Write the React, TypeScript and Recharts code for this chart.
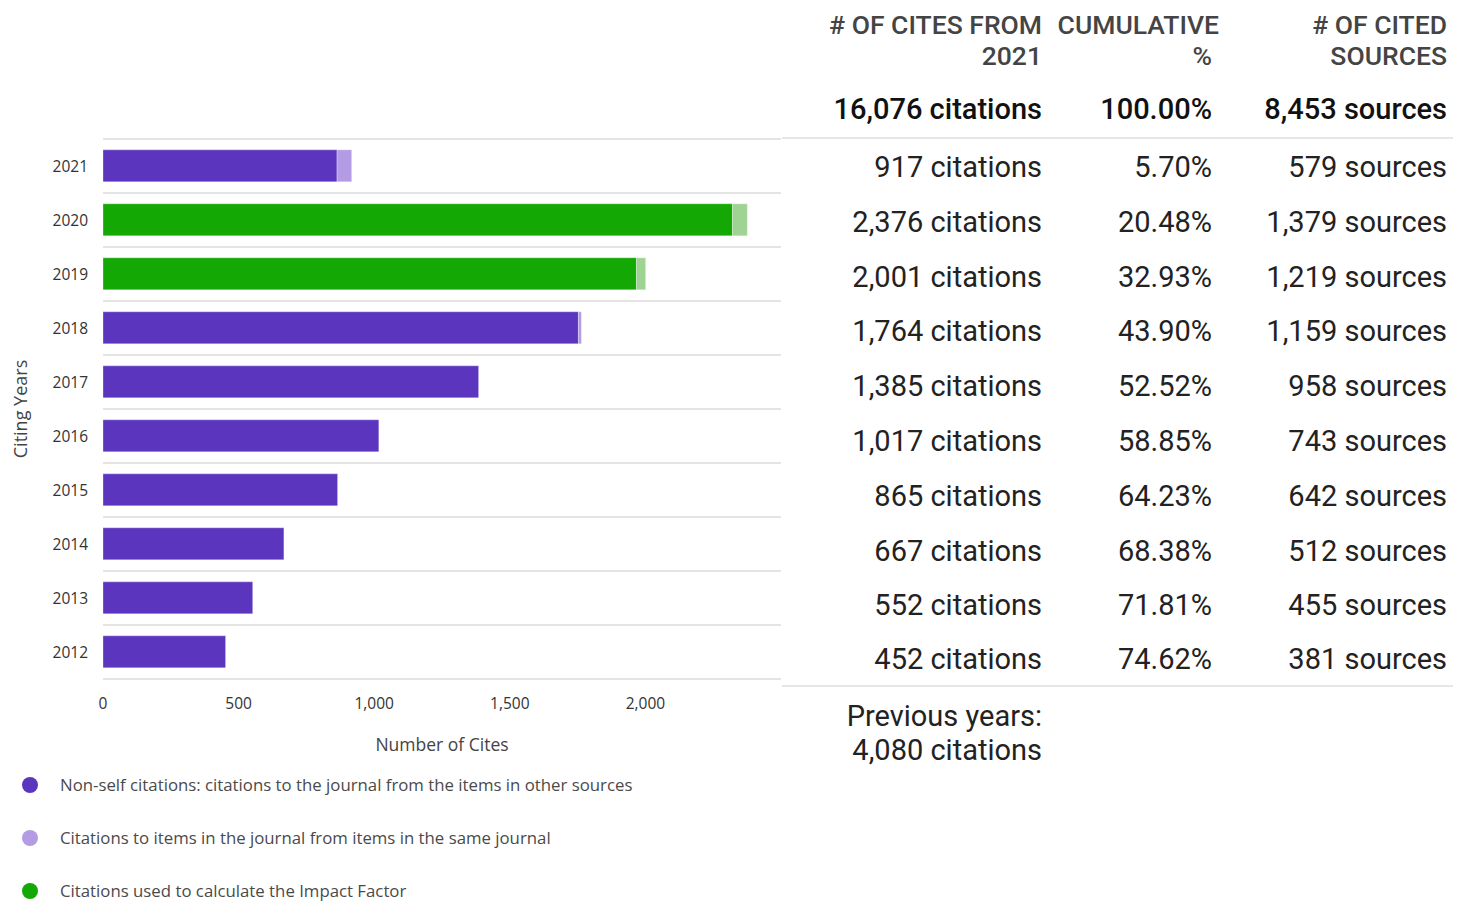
import React from 'react'
import { BarChart, Bar, XAxis, YAxis, CartesianGrid, Cell } from 'recharts'

const years = ['2021', '2020', '2019', '2018', '2017', '2016', '2015', '2014', '2013', '2012']
const nonSelfCites = [863, 2321, 1967, 1753, 1385, 1017, 865, 667, 552, 452]
const selfCites = [54, 55, 34, 11, 0, 0, 0, 0, 0, 0]
const impactFactorYears = ['2020', '2019']
const xTicks = [0, 500, 1000, 1500, 2000]

const citesFrom2021 = [917, 2376, 2001, 1764, 1385, 1017, 865, 667, 552, 452]
const cumulativePct = ['5.70%', '20.48%', '32.93%', '43.90%', '52.52%', '58.85%', '64.23%', '68.38%', '71.81%', '74.62%']
const citedSources = [579, 1379, 1219, 1159, 958, 743, 642, 512, 455, 381]
const totalCites = 16076
const totalPct = '100.00%'
const totalSources = 8453
const previousYearsCites = 4080

const legendItems = [
  { label: 'Non-self citations: citations to the journal from the items in other sources', color: '#5c35be' },
  { label: 'Citations to items in the journal from items in the same journal', color: '#b39ce3' },
  { label: 'Citations used to calculate the Impact Factor', color: '#14a805' },
]

const COLORS = {
  nonSelf: '#5c35be',
  self: '#b39ce3',
  ifNonSelf: '#14a805',
  ifSelf: '#9fd393',
}

const data = years.map((y, i) => ({ year: y, nonSelf: nonSelfCites[i], self: selfCites[i] }))

const fmt = (n: number) => n.toLocaleString('en-US')

const chartFont = '"Open Sans", sans-serif'
const tableFont = 'Roboto, sans-serif'

function CitesChart() {
  return (
    <BarChart
      width={790}
      height={762}
      data={data}
      layout="vertical"
      margin={{ top: 139, right: 9, bottom: 8, left: 0 }}
      barCategoryGap="20%"
      style={{ fontFamily: chartFont }}
    >
      <CartesianGrid
        vertical={false}
        stroke="#e4e4e4"
        strokeWidth={2}
        horizontalCoordinatesGenerator={({ offset }: any) =>
          Array.from({ length: years.length + 1 }, (_, i) => offset.top + (offset.height * i) / years.length)
        }
      />
      <XAxis
        type="number"
        domain={[0, 2500]}
        ticks={xTicks}
        tickFormatter={(v: number) => fmt(v)}
        axisLine={false}
        tickLine={false}
        tickMargin={13}
        height={75}
        tick={{ fill: '#333', fontSize: 15.5 }}
        label={{ value: 'Number of Cites', position: 'insideBottom', offset: 3, fill: '#444', fontSize: 17.5 }}
      />
      <YAxis
        type="category"
        dataKey="year"
        width={103}
        axisLine={false}
        tickLine={false}
        tickMargin={9}
        tick={{ fill: '#333', fontSize: 15.5 }}
        label={{
          value: 'Citing Years',
          angle: -90,
          position: 'insideLeft',
          offset: 21,
          fill: '#444',
          fontSize: 18,
          style: { textAnchor: 'middle' },
        }}
      />
      <Bar dataKey="nonSelf" stackId="a" isAnimationActive={false} stroke="#ffffff" strokeOpacity={0.3}>
        {data.map((d) => (
          <Cell key={d.year} fill={impactFactorYears.includes(d.year) ? COLORS.ifNonSelf : COLORS.nonSelf} />
        ))}
      </Bar>
      <Bar dataKey="self" stackId="a" isAnimationActive={false} stroke="#ffffff" strokeOpacity={0.3}>
        {data.map((d) => (
          <Cell key={d.year} fill={impactFactorYears.includes(d.year) ? COLORS.ifSelf : COLORS.self} />
        ))}
      </Bar>
    </BarChart>
  )
}

function Legend() {
  return (
    <div style={{ position: 'absolute', left: 0, top: 758, fontFamily: chartFont }}>
      {legendItems.map((item) => (
        <div key={item.label} style={{ height: 53, display: 'flex', alignItems: 'center' }}>
          <span
            style={{
              display: 'inline-block',
              width: 16,
              height: 16,
              borderRadius: 8,
              background: item.color,
              marginLeft: 22,
              marginRight: 22,
            }}
          />
          <span style={{ fontSize: 16.8, color: '#4a4a4a' }}>{item.label}</span>
        </div>
      ))}
    </div>
  )
}

const colWidths = [260, 170, 235]

function Row({ cells, height, weight, color, border }: any) {
  return (
    <div
      style={{
        display: 'flex',
        height,
        lineHeight: `${height}px`,
        fontWeight: weight,
        color,
        borderBottom: border ? '2px solid #e6e6e6' : undefined,
      }}
    >
      {cells.map((c: string, i: number) => (
        <div key={i} style={{ width: colWidths[i], textAlign: 'right', whiteSpace: 'nowrap', position: 'relative', top: 1 }}>
          {c}
        </div>
      ))}
    </div>
  )
}

function CitesTable() {
  const rowH = (687 - 139) / years.length
  return (
    <div style={{ position: 'absolute', left: 782, top: 0, width: 671, fontFamily: tableFont }}>
      <div style={{ height: 80, paddingTop: 9, boxSizing: 'border-box', display: 'flex', fontSize: 26.5, fontWeight: 500, color: '#444', lineHeight: '31px' }}>
        <div style={{ width: colWidths[0], textAlign: 'right', whiteSpace: 'nowrap' }}>
          # OF CITES FROM
          <br />
          2021
        </div>
        <div style={{ width: colWidths[1], textAlign: 'right', whiteSpace: 'nowrap' }}>
          <span style={{ position: 'relative', left: 7 }}>CUMULATIVE</span>
          <br />%
        </div>
        <div style={{ width: colWidths[2], textAlign: 'right', whiteSpace: 'nowrap' }}>
          # OF CITED
          <br />
          SOURCES
        </div>
      </div>
      <div style={{ fontSize: 29 }}>
        <Row
          cells={[`${fmt(totalCites)} citations`, totalPct, `${fmt(totalSources)} sources`]}
          height={57}
          weight={500}
          color="#111"
          border
        />
        {years.map((y, i) => (
          <Row
            key={y}
            cells={[`${fmt(citesFrom2021[i])} citations`, cumulativePct[i], `${fmt(citedSources[i])} sources`]}
            height={i === years.length - 1 ? rowH - 2 : rowH}
            weight={400}
            color="#222"
            border={i === years.length - 1}
          />
        ))}
        <div style={{ width: colWidths[0], textAlign: 'right', paddingTop: 12, lineHeight: '34px', color: '#222', whiteSpace: 'nowrap' }}>
          Previous years:
          <br />
          {fmt(previousYearsCites)} citations
        </div>
      </div>
    </div>
  )
}

export default function App() {
  return (
    <div style={{ position: 'absolute', left: 0, top: 0, width: 1465, height: 902, background: '#fff', overflow: 'hidden' }}>
      <CitesChart />
      <Legend />
      <CitesTable />
    </div>
  )
}
